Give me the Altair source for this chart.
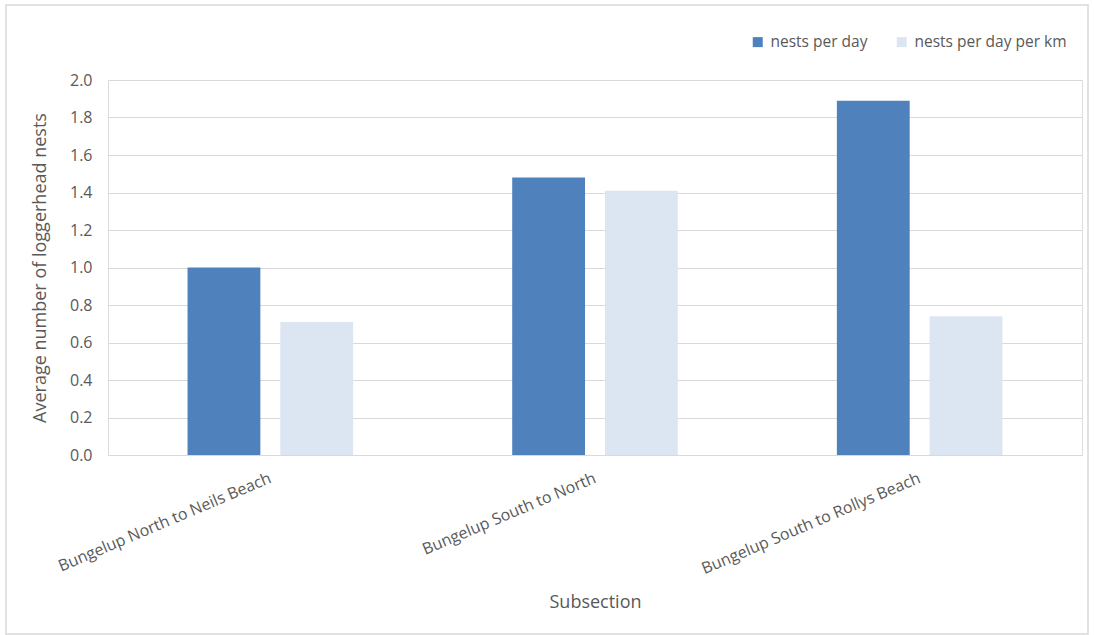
import altair as alt
import pandas as pd

# Average loggerhead nests by beach subsection
subsections = [
    "Bungelup North to Neils Beach",
    "Bungelup South to North",
    "Bungelup South to Rollys Beach",
]
nests_per_day = [1.00, 1.48, 1.89]
nests_per_day_per_km = [0.71, 1.41, 0.74]
series_names = ["nests per day", "nests per day per km"]
series_colors = ["#4f81bd", "#dce6f2"]
y_ticks = [0.0, 0.2, 0.4, 0.6, 0.8, 1.0, 1.2, 1.4, 1.6, 1.8, 2.0]

rows = []
for name, values in zip(series_names, [nests_per_day, nests_per_day_per_km]):
    for sub, v in zip(subsections, values):
        rows.append({"Subsection": sub, "series": name, "value": v})
df = pd.DataFrame(rows)

FONT = "Open Sans"
TEXT = "#595959"
GRID = "#d9d9d9"
W, H = 974, 375

bars = alt.Chart(df).mark_bar().encode(
    x=alt.X(
        "Subsection:N",
        sort=subsections,
        scale=alt.Scale(paddingInner=0.49, paddingOuter=0.245),
        axis=alt.Axis(
            title="Subsection",
            labelAngle=337,
            labelAlign="right",
            labelBaseline="middle",
            labelPadding=22,
            labelFontSize=16,
            labelColor=TEXT,
            labelFont=FONT,
            ticks=False,
            domainColor=GRID,
            domainWidth=1,
            titleFont=FONT,
            titleFontSize=18,
            titleFontWeight="normal",
            titleColor=TEXT,
            titleY=147,
            titleBaseline="middle",
            labelLimit=400,
        ),
    ),
    xOffset=alt.XOffset(
        "series:N",
        sort=series_names,
        scale=alt.Scale(paddingInner=0.215, paddingOuter=0),
    ),
    y=alt.Y(
        "value:Q",
        scale=alt.Scale(domain=[0, 2], nice=False),
        axis=alt.Axis(
            title="Average number of loggerhead nests",
            values=y_ticks,
            format=".1f",
            ticks=False,
            domain=False,
            gridColor=GRID,
            gridWidth=1,
            labelFontSize=16,
            labelColor=TEXT,
            labelFont=FONT,
            labelPadding=16,
            titleFont=FONT,
            titleFontSize=18,
            titleFontWeight="normal",
            titleColor=TEXT,
            titleX=-68,
            titleY=H / 2,
            titleAnchor="middle",
            titleBaseline="middle",
        ),
    ),
    color=alt.Color(
        "series:N",
        sort=series_names,
        scale=alt.Scale(domain=series_names, range=series_colors),
        legend=alt.Legend(
            title=None,
            orient="none",
            legendX=642,
            legendY=-46,
            direction="horizontal",
            symbolType="square",
            symbolSize=100,
            symbolStrokeWidth=0,
            labelFont=FONT,
            labelFontSize=15.5,
            labelColor=TEXT,
            labelOffset=5,
            columnPadding=26,
        ),
    ),
)

# Light frame around the whole chart area
frame = alt.Chart(pd.DataFrame({"k": [0]})).mark_rect(
    fill=None, stroke=GRID, strokeWidth=1.5
).encode(
    x=alt.value(-102), x2=alt.value(980), y=alt.value(-75), y2=alt.value(554)
)

chart = (
    alt.layer(bars, frame)
    .properties(
        width=W,
        height=H,
        autosize=alt.AutoSizeParams(type="none"),
        padding={"left": 108, "top": 80, "right": 12, "bottom": 180},
    )
    .configure_view(stroke=None)
    .configure(background="white")
)

chart.save("out.html", embed_options={"renderer": "svg", "actions": False})
